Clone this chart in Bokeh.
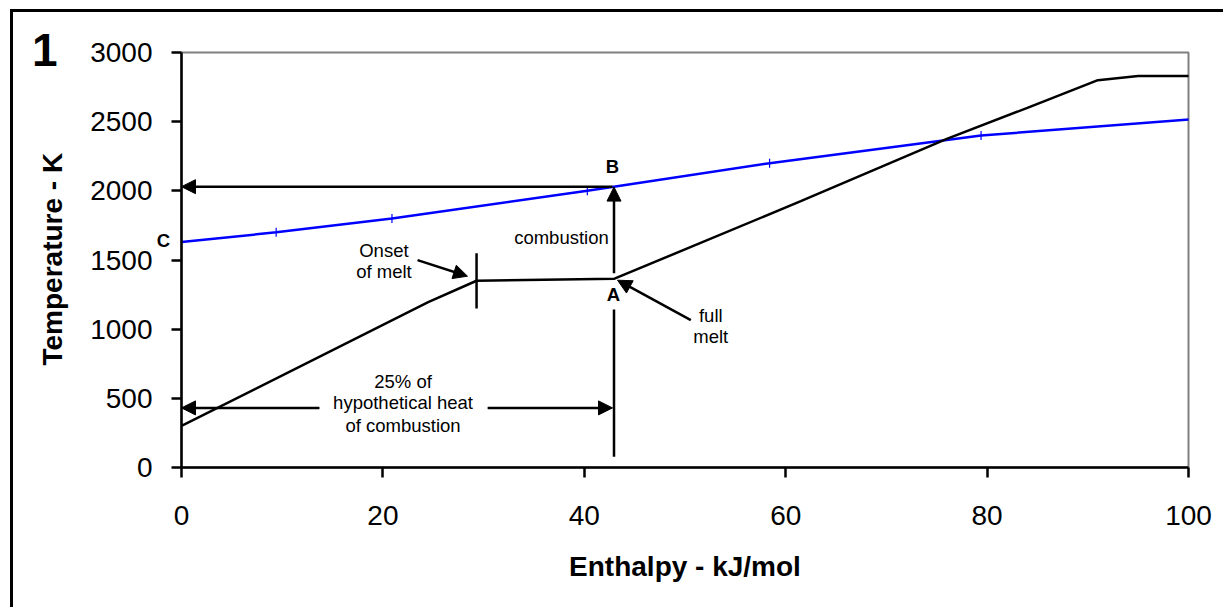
import numpy as np
from bokeh.plotting import figure
from bokeh.models import Range1d, Arrow, NormalHead, Label, FixedTicker, InlineStyleSheet
from bokeh.embed import file_html
from bokeh.resources import INLINE

# ---- data ----
heat_h = [0, 24.5, 29.3, 43.0, 61.5, 76.0, 84.0, 91.0, 95.0, 100.5]
heat_t = [300, 1195, 1350, 1365, 1925, 2375, 2600, 2800, 2830, 2830]

comb_h = [0, 9.4, 20.9, 40.3, 58.4, 79.4, 100.5]
comb_t = [1630, 1700, 1800, 2000, 2200, 2400, 2518]
marker_h = [9.4, 20.9, 40.3, 58.4, 79.4]
marker_t = [1700, 1800, 2000, 2200, 2400]

x_ticks = [0, 20, 40, 60, 80, 100]
y_ticks = [0, 500, 1000, 1500, 2000, 2500, 3000]

# annotation anchors (data coords)
point_A = (42.95, 1365)
point_B = (42.8, 2030)
onset_h = 29.3
hypo_t = 431

FONT = "Liberation Sans"

p = figure(width=1223, height=607, output_backend="svg", toolbar_location=None,
           x_range=Range1d(0, 100), y_range=Range1d(0, 3000),
           min_border_left=181, min_border_right=35, min_border_top=52, min_border_bottom=140)
p.background_fill_color = "white"
p.border_fill_color = "white"
p.outline_line_color = "#808080"
p.outline_line_width = 2
p.xgrid.visible = False
p.ygrid.visible = False

# outer black frame of the picture (left and top edges visible, the rest is cut off)
p.stylesheets = [InlineStyleSheet(css="""
:host::after {
  content: "";
  position: absolute;
  left: 10px; top: 9px; right: 0px; bottom: 0px;
  border-left: 3px solid black;
  border-top: 3px solid black;
  pointer-events: none;
  z-index: 10;
}
""")]

for ax, ticks in ((p.xaxis, x_ticks), (p.yaxis, y_ticks)):
    ax.ticker = FixedTicker(ticks=ticks)
    ax.minor_tick_line_color = None
    ax.major_tick_in = 0
    ax.major_tick_out = 10
    ax.axis_line_width = 2.5
    ax.axis_line_color = "black"
    ax.major_tick_line_width = 2.5
    ax.major_tick_line_color = "black"
    ax.major_label_text_font = FONT
    ax.major_label_text_font_size = "28px"
    ax.major_label_text_color = "black"
    ax.axis_label_text_font = FONT
    ax.axis_label_text_font_size = "28px"
    ax.axis_label_text_font_style = "bold"
    ax.axis_label_text_color = "black"

p.xaxis.axis_label = "Enthalpy - kJ/mol"
p.xaxis.major_label_standoff = 28
p.yaxis.major_label_standoff = 19
p.xaxis.axis_label_standoff = 23

# series
p.line(comb_h, comb_t, line_color="#0000FF", line_width=2.5)
p.scatter(marker_h, marker_t, marker="dash", angle=np.pi / 2, size=9,
          line_color="#0000FF", line_width=1.2)
p.line(heat_h, heat_t, line_color="black", line_width=2.5)

def arrow(x0, y0, x1, y1):
    a = Arrow(x_start=x0, y_start=y0, x_end=x1, y_end=y1, line_width=2.5, line_color="black",
              end=NormalHead(size=14, fill_color="black", line_color="black", line_width=1))
    p.add_layout(a)

# B -> temperature axis
arrow(point_B[0], point_B[1], 0, point_B[1])
# A -> B combustion
arrow(point_A[0], 1405, point_A[0], 2027)
# vertical line below A
p.segment(x0=[point_A[0]], y0=[1142], x1=[point_A[0]], y1=[77], line_color="black", line_width=2.5)
# onset tick
p.segment(x0=[onset_h], y0=[1150], x1=[onset_h], y1=[1548], line_color="black", line_width=2.5)
# 25% arrows
arrow(13.7, hypo_t, 0, hypo_t)
arrow(30.4, hypo_t, point_A[0] - 0.15, hypo_t)
# onset arrow
arrow(23.44, 1499, 28.4, 1383)
# full melt arrow
arrow(50.58, 1065, 43.3, 1354)

def lab(x, y, t, size="18.5px", bold=False, align="center", place=None, angle=0.0):
    l = Label(x=x, y=y, text=t, text_font=FONT, text_font_size=size, angle=angle,
              text_font_style="bold" if bold else "normal", text_color="black",
              text_align=align, text_baseline="middle")
    if place:
        p.add_layout(l, place)
    else:
        p.add_layout(l)

lab(42.8, 2178, "B", bold=True)
lab(42.9, 1247, "A", bold=True)
lab(-1.8, 1643, "C", bold=True, place="left")
lab(42.43, 1663, "combustion", align="right")
lab(20.1, 1566, "Onset")
lab(20.1, 1414, "of melt")
lab(52.56, 1101, "full")
lab(52.56, 949, "melt")
lab(22.0, 619, "25% of")
lab(22.0, 467, "hypothetical heat")
lab(22.0, 306, "of combustion")
lab(-13.57, 3020, "1", size="46px", bold=True, place="left")
lab(-12.8, 1506, "Temperature - K", size="28px", bold=True, place="left", angle=np.pi / 2)

open("out.html", "w").write(file_html(p, INLINE))
